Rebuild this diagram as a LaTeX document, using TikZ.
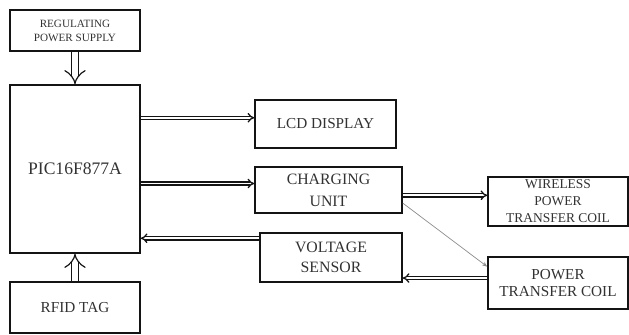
\documentclass[tikz,border=0pt]{standalone}
\usepackage{fontspec}
\setmainfont{Liberation Serif}
\usetikzlibrary{arrows.meta,positioning,calc}
\definecolor{boxgray}{RGB}{20,20,20}
\definecolor{txtgray}{RGB}{50,50,50}
\definecolor{linkgray}{RGB}{140,140,140}

\tikzset{
  blockbox/.style={draw=boxgray, line width=1.3pt, align=center, inner sep=0pt, text=txtgray},
  dblarrow/.style={draw=boxgray, double, double distance=1.6pt, line width=1.1pt, -{Implies}},
  widearrow/.style={dblarrow, line width=1pt, double distance=5.5pt},
  thinlink/.style={draw=linkgray, line width=0.6pt, -{Stealth[length=4.5pt,width=3.5pt]}}
}

\begin{document}
\begin{tikzpicture}[x=0.03cm,y=-0.03cm]
    \useasboundingbox (0,0) rectangle (629,334);

    % left column
    \node[blockbox, minimum width=3.9cm, minimum height=1.23cm,
          font=\fontsize{9.5}{12}\selectfont] (rps) at (75,30.5) {REGULATING\\POWER SUPPLY};
    \node[blockbox, minimum width=3.9cm, minimum height=5.04cm,
          font=\fontsize{15}{16}\selectfont] (pic) at (75,169) {PIC16F877A};
    \node[blockbox, minimum width=3.9cm, minimum height=1.53cm,
          font=\fontsize{13}{14}\selectfont] (rfid) at (75,307.5) {RFID TAG};

    % middle column
    \node[blockbox, minimum width=4.23cm, minimum height=1.44cm,
          font=\fontsize{13}{14}\selectfont] (lcd) at (325.5,124) {LCD DISPLAY};
    \node[blockbox, minimum width=4.41cm, minimum height=1.38cm,
          font=\fontsize{13.5}{18.5}\selectfont] (chg) at (328.5,190) {CHARGING\\UNIT};
    \node[blockbox, minimum width=4.26cm, minimum height=1.47cm,
          font=\fontsize{13.5}{17}\selectfont] (vs) at (331,257.5) {VOLTAGE\\SENSOR};

    % right column
    \node[blockbox, minimum width=4.2cm, minimum height=1.47cm,
          font=\fontsize{11.5}{14.5}\selectfont] (wpc) at (558,201.5) {WIRELESS\\POWER\\TRANSFER COIL};
    \node[blockbox, minimum width=4.2cm, minimum height=1.56cm,
          font=\fontsize{13}{15}\selectfont] (ptc) at (558,283) {POWER\\TRANSFER COIL};

    % supply and tag into the controller
    \draw[widearrow] (rps.south) -- (pic.north);
    \draw[widearrow] (rfid.north) -- (pic.south);

    % controller outputs
    \draw[dblarrow] (pic.east |- lcd.175) -- (lcd.175);
    \draw[dblarrow] (pic.east |- chg.175) -- (chg.175);
    \draw[dblarrow] (chg.east |- wpc.175) -- (wpc.175);

    % feedback path
    \draw[dblarrow] (ptc.176) -- (vs.east |- ptc.176);
    \draw[dblarrow] (vs.165) -- (pic.east |- vs.165);

    % thin link
    \draw[thinlink] (chg.-10) -- (ptc.167);
\end{tikzpicture}
\end{document}
